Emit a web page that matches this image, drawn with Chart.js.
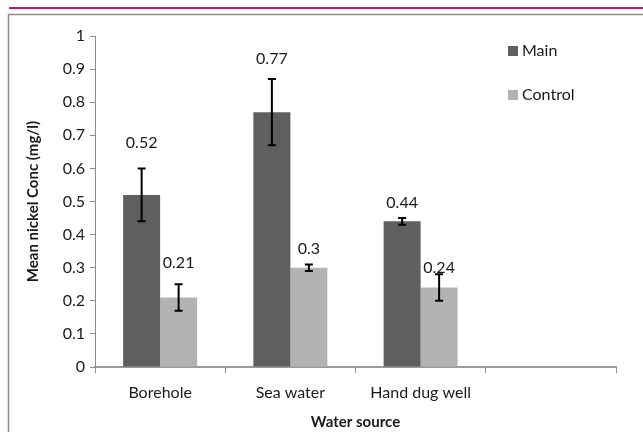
<!DOCTYPE html>
<html>
<head>
<meta charset="utf-8">
<script src="https://cdn.jsdelivr.net/npm/chart.js@4"></script>
<style>
  html, body { margin: 0; padding: 0; background: #fff; }
  #wrap { width: 643px; height: 432px; }
</style>
</head>
<body>
<div id="wrap"><canvas id="chart" width="643" height="432"></canvas></div>
<script>
// values
const categories = ["Borehole", "Sea water", "Hand dug well", ""];
const mainValues = [0.52, 0.77, 0.44, null];
const controlValues = [0.21, 0.3, 0.24, null];
const mainErrors = [0.08, 0.1, 0.01, null];
const controlErrors = [0.04, 0.01, 0.04, null];

const FONT = "Lato, 'Liberation Sans', sans-serif";

// frame, error bars, value labels and legend
const decor = {
  id: "decor",
  beforeDraw(chart) {
    const ctx = chart.ctx;
    ctx.save();
    ctx.fillStyle = "#fff";
    ctx.fillRect(0, 0, chart.width, chart.height);
    ctx.strokeStyle = "#c0186c";
    ctx.lineWidth = 2;
    ctx.beginPath();
    ctx.moveTo(9, 8);
    ctx.lineTo(chart.width, 8);
    ctx.stroke();
    ctx.strokeStyle = "#8c8c8c";
    ctx.lineWidth = 1.5;
    ctx.beginPath();
    ctx.moveTo(8.5, chart.height);
    ctx.lineTo(8.5, 14.5);
    ctx.lineTo(chart.width, 14.5);
    ctx.stroke();
    ctx.restore();
  },
  afterDatasetsDraw(chart, args, opts) {
    const ctx = chart.ctx;
    const y = chart.scales.y;
    ctx.save();
    chart.data.datasets.forEach((ds, di) => {
      const meta = chart.getDatasetMeta(di);
      meta.data.forEach((bar, i) => {
        const v = ds.data[i];
        if (v == null) return;
        const e = ds.errors[i];
        const top = y.getPixelForValue(v + e);
        const bot = y.getPixelForValue(v - e);
        ctx.strokeStyle = "#000";
        ctx.lineWidth = 2;
        ctx.beginPath();
        ctx.moveTo(bar.x, top);
        ctx.lineTo(bar.x, bot);
        ctx.moveTo(bar.x - 4, top);
        ctx.lineTo(bar.x + 4, top);
        ctx.moveTo(bar.x - 4, bot);
        ctx.lineTo(bar.x + 4, bot);
        ctx.stroke();
        ctx.fillStyle = "#1a1a1a";
        ctx.font = "16px " + FONT;
        ctx.textAlign = "center";
        ctx.textBaseline = "middle";
        ctx.fillText(String(v), bar.x, top - opts.lift[di][i]);
      });
    });
    // legend
    ctx.font = "16px " + FONT;
    ctx.textAlign = "left";
    ctx.textBaseline = "middle";
    chart.data.datasets.forEach((ds, di) => {
      const ly = opts.legendY[di];
      ctx.fillStyle = ds.backgroundColor;
      ctx.fillRect(508, ly - 5, 10, 10);
      ctx.fillStyle = "#1a1a1a";
      ctx.fillText(ds.label, 522, ly);
    });
    ctx.restore();
  }
};

new Chart(document.getElementById("chart"), {
  type: "bar",
  data: {
    labels: categories,
    datasets: [
      {
        label: "Main",
        data: mainValues,
        errors: mainErrors,
        backgroundColor: "#5f5f5f",
        categoryPercentage: 0.568,
        barPercentage: 1
      },
      {
        label: "Control",
        data: controlValues,
        errors: controlErrors,
        backgroundColor: "#b3b3b3",
        categoryPercentage: 0.568,
        barPercentage: 1
      }
    ]
  },
  options: {
    responsive: false,
    animation: false,
    layout: { padding: { left: 10, top: 36, right: 27, bottom: 0 } },
    plugins: {
      legend: { display: false },
      tooltip: { enabled: false },
      decor: { lift: [[26, 20, 15], [21, 16, 6]], legendY: [51, 95] }
    },
    scales: {
      x: {
        afterFit: s => { s.height = 65; },
        grid: { offset: true, drawOnChartArea: false, tickLength: 6, color: "#8c8c8c" },
        border: { color: "#9a9a9a", width: 2 },
        ticks: { color: "#1a1a1a", font: { family: FONT, size: 16 }, padding: 10, maxRotation: 0 },
        title: {
          display: true,
          text: "Water source",
          color: "#1a1a1a",
          font: { family: FONT, size: 15, weight: "bold" },
          padding: { top: 0, bottom: 1 }
        }
      },
      y: {
        min: 0,
        max: 1,
        afterFit: s => { s.width = 85; },
        grid: { drawOnChartArea: false, tickLength: 5, color: "#8c8c8c" },
        border: { color: "#8c8c8c", width: 1 },
        ticks: {
          stepSize: 0.1,
          color: "#1a1a1a",
          font: { family: FONT, size: 16 },
          padding: 5,
          callback: v => String(Math.round(v * 10) / 10)
        },
        title: {
          display: true,
          text: "Mean nickel Conc (mg/l)",
          color: "#1a1a1a",
          font: { family: FONT, size: 15, weight: "bold" },
          padding: { top: 14, bottom: 0 }
        }
      }
    }
  },
  plugins: [decor]
});
</script>
</body>
</html>
